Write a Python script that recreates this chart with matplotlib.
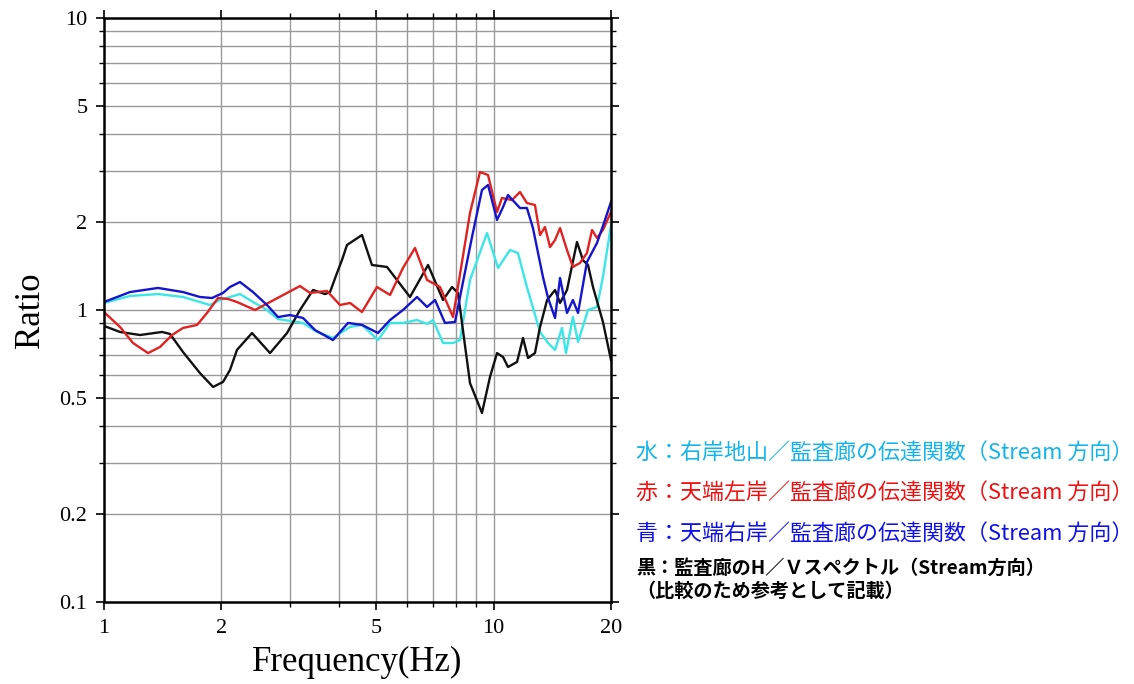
import matplotlib
matplotlib.use("Agg")
import matplotlib.pyplot as plt
from matplotlib.ticker import FixedLocator, FixedFormatter, NullFormatter

# ---- data ----
cyan_f = [1.0, 1.166, 1.376, 1.595, 1.871, 1.985, 2.234, 2.412, 2.620, 2.796, 3.241, 3.521,
          3.869, 4.279, 4.592, 5.048, 5.420, 5.851, 6.357, 6.745, 6.987, 7.413, 7.864, 8.194,
          8.694, 9.612, 10.26, 11.01, 11.54, 12.17, 13.15, 13.79, 14.37, 14.97, 15.33, 15.97,
          16.46, 17.46, 18.41, 19.07, 20.0]
cyan_r = [1.057, 1.117, 1.134, 1.108, 1.040, 1.082, 1.134, 1.065, 1.000, 0.931, 0.903, 0.841,
          0.802, 0.875, 0.889, 0.789, 0.903, 0.903, 0.924, 0.896, 0.924, 0.771, 0.771, 0.789,
          1.267, 1.835, 1.393, 1.605, 1.567, 1.199, 0.841, 0.771, 0.730, 0.868, 0.712, 0.946,
          0.777, 1.000, 1.024, 1.297, 1.95]

blue_f = [1.0, 1.166, 1.376, 1.595, 1.763, 1.893, 2.020, 2.105, 2.234, 2.412, 2.620, 2.796,
          3.001, 3.241, 3.479, 3.869, 4.228, 4.592, 5.048, 5.420, 5.851, 6.357, 6.745, 7.071,
          7.499, 7.957, 8.797, 9.332, 9.670, 10.20, 10.57, 10.88, 11.68, 12.17, 12.61, 13.38,
          13.79, 14.37, 14.80, 15.42, 15.97, 16.46, 17.35, 18.41, 19.30, 20.0]
blue_r = [1.065, 1.152, 1.190, 1.152, 1.108, 1.099, 1.144, 1.199, 1.247, 1.152, 1.040, 0.946,
          0.961, 0.939, 0.854, 0.789, 0.903, 0.889, 0.834, 0.924, 1.000, 1.108, 1.024, 1.082,
          0.903, 0.910, 1.778, 2.576, 2.680, 2.034, 2.253, 2.476, 2.235, 2.235, 1.909, 1.297,
          1.099, 0.939, 1.287, 0.977, 1.082, 0.977, 1.460, 1.696, 2.034, 2.344]

red_f = [1.0, 1.099, 1.187, 1.297, 1.392, 1.495, 1.595, 1.733, 1.838, 1.961, 2.080, 2.194,
         2.441, 2.667, 2.949, 3.184, 3.378, 3.735, 4.033, 4.279, 4.592, 5.017, 5.420, 5.851,
         6.281, 6.745, 7.282, 7.864, 8.694, 9.222, 9.670, 10.20, 10.50, 11.14, 11.68, 12.17,
         12.76, 13.15, 13.54, 13.95, 14.37, 14.80, 15.42, 15.97, 16.65, 17.35, 17.88, 18.41,
         19.07, 20.0]
red_r = [0.984, 0.875, 0.771, 0.712, 0.747, 0.821, 0.868, 0.889, 0.977, 1.099, 1.091, 1.065,
         1.000, 1.065, 1.144, 1.208, 1.144, 1.162, 1.040, 1.057, 0.984, 1.199, 1.126, 1.393,
         1.631, 1.267, 1.199, 0.946, 2.149, 2.969, 2.900, 2.166, 2.419, 2.380, 2.536, 2.325,
         2.289, 1.806, 1.924, 1.643, 1.737, 1.909, 1.605, 1.404, 1.449, 1.567, 1.879, 1.764,
         1.879, 2.166]

black_f = [1.0, 1.099, 1.237, 1.409, 1.477, 1.595, 1.763, 1.905, 2.020, 2.105, 2.194, 2.398,
           2.667, 2.949, 3.184, 3.439, 3.691, 3.802, 3.962, 4.080, 4.203, 4.592, 4.871, 5.324,
           6.098, 6.785, 7.413, 7.817, 8.098, 8.694, 9.332, 9.784, 10.20, 10.57, 10.88, 11.48,
           11.89, 12.25, 12.76, 13.15, 13.71, 14.37, 14.80, 15.42, 16.36, 16.95, 17.46, 17.98,
           19.07, 20.0]
black_r = [0.882, 0.841, 0.821, 0.841, 0.828, 0.718, 0.608, 0.545, 0.567, 0.623, 0.730, 0.834,
           0.712, 0.834, 1.000, 1.171, 1.134, 1.152, 1.339, 1.483, 1.670, 1.806, 1.426, 1.404,
           1.108, 1.426, 1.082, 1.199, 1.144, 0.562, 0.444, 0.590, 0.712, 0.690, 0.638, 0.664,
           0.802, 0.685, 0.712, 0.875, 1.082, 1.171, 1.057, 1.171, 1.710, 1.480, 1.426, 1.199,
           0.910, 0.674]

x_ticks = [1, 2, 5, 10, 20]
x_tick_labels = ["1", "2", "5", "10", "20"]
x_grid = [2, 3, 4, 5, 6, 7, 8, 9, 10]
y_ticks = [0.1, 0.2, 0.5, 1, 2, 5, 10]
y_tick_labels = ["0.1", "0.2", "0.5", "1", "2", "5", "10"]
y_grid = [0.2, 0.3, 0.4, 0.5, 0.6, 0.7, 0.8, 0.9, 1, 2, 3, 4, 5, 6, 7, 8, 9]

legend_lines = [
    ("水：右岸地山／監査廊の伝達関数（Stream 方向）", "#12B4EC", "normal"),
    ("赤：天端左岸／監査廊の伝達関数（Stream 方向）", "#F01010", "normal"),
    ("青：天端右岸／監査廊の伝達関数（Stream 方向）", "#1010E8", "normal"),
    ("黒：監査廊のH／Ｖスペクトル（Stream方向）", "#000000", "bold"),
    ("（比較のため参考として記載）", "#000000", "bold"),
]

# ---- figure ----
W, H = 1134, 684
fig = plt.figure(figsize=(W / 100, H / 100), dpi=100)
ax = fig.add_axes([104 / W, 1 - 602 / H, (611 - 104) / W, (602 - 18) / H])

ax.set_xscale("log")
ax.set_yscale("log")
ax.set_xlim(1, 20)
ax.set_ylim(0.1, 10)

for v in x_grid:
    ax.axvline(v, color="#9a9a9a", lw=1.0, zorder=1)
for v in y_grid:
    ax.axhline(v, color="#9a9a9a", lw=1.0, zorder=1)

ax.plot(cyan_f, cyan_r, color="#3CE6E6", lw=1.7, zorder=3)
ax.plot(black_f, black_r, color="#111111", lw=1.7, zorder=3)
ax.plot(red_f, red_r, color="#E02222", lw=1.7, zorder=4)
ax.plot(blue_f, blue_r, color="#1515CC", lw=1.7, zorder=5)

ax.xaxis.set_major_locator(FixedLocator(x_ticks))
ax.xaxis.set_major_formatter(FixedFormatter(x_tick_labels))
ax.xaxis.set_minor_locator(FixedLocator([3, 4, 6, 7, 8, 9]))
ax.xaxis.set_minor_formatter(NullFormatter())
ax.yaxis.set_major_locator(FixedLocator(y_ticks))
ax.yaxis.set_major_formatter(FixedFormatter(y_tick_labels))
ax.yaxis.set_minor_locator(FixedLocator([0.3, 0.4, 0.6, 0.7, 0.8, 0.9, 3, 4, 6, 7, 8, 9]))
ax.yaxis.set_minor_formatter(NullFormatter())

ax.tick_params(which="major", direction="out", length=6, width=1.2,
               top=True, right=True, labelsize=16, pad=6)
ax.tick_params(which="minor", direction="out", length=3.5, width=1.0,
               top=True, right=True)
for lab in ax.get_xticklabels() + ax.get_yticklabels():
    lab.set_fontfamily("Liberation Serif")

for s in ax.spines.values():
    s.set_linewidth(1.8)
    s.set_zorder(6)

fig.text(30 / W, 1 - 310 / H, "Ratio", rotation=90, ha="center", va="center",
         fontsize=25, family="Liberation Serif")
fig.text(357 / W, 1 - 662 / H, "Frequency(Hz)", ha="center", va="center",
         fontsize=25, family="Liberation Serif")

ys = [454, 494, 535, 568, 591]
for (txt, col, wt), yy in zip(legend_lines, ys):
    fig.text(636 / W, 1 - yy / H, txt, color=col, fontsize=15.8 if wt == "normal" else 13.8,
             fontweight=wt, ha="left", va="center",
             family=["Noto Sans CJK JP", "DejaVu Sans"])

fig.savefig("out.png", dpi=100)
